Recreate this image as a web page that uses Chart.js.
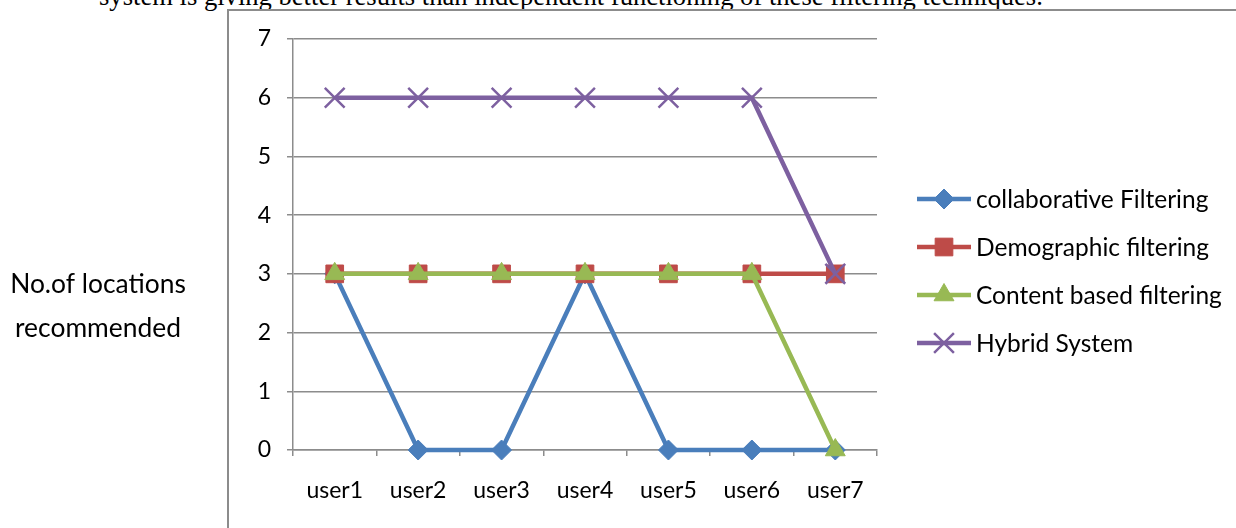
<!DOCTYPE html>
<html>
<head>
<meta charset="utf-8">
<script src="https://cdn.jsdelivr.net/npm/chart.js@4.4.0/dist/chart.umd.min.js"></script>
<style>
  html, body { margin: 0; padding: 0; background: #fff; overflow: hidden; }
  #wrap { position: relative; width: 1236px; height: 528px; overflow: hidden; }
  #caption {
    position: absolute; left: 99px; top: -17px; white-space: nowrap;
    font-family: "Liberation Serif", "DejaVu Serif", serif; font-size: 26.6px; line-height: 26.6px; color: #000;
  }
  #frame {
    position: absolute; left: 227px; top: 9px; width: 1100px; height: 600px;
    border-top: 2px solid #8c8c8c; border-left: 2px solid #8c8c8c;
  }
  #grafico { position: absolute; left: 0; top: 0; }
</style>
</head>
<body>
<div id="wrap">
  <div id="caption">system is giving better results than independent functioning of these filtering techniques.</div>
  <div id="frame"></div>
  <canvas id="grafico" width="1236" height="528"></canvas>
</div>
<script>
const usuarios = ['user1', 'user2', 'user3', 'user4', 'user5', 'user6', 'user7'];
const colaborativo = [3, 0, 0, 3, 0, 0, 0];
const demografico = [3, 3, 3, 3, 3, 3, 3];
const contenido = [3, 3, 3, 3, 3, 3, 0];
const hibrido = [6, 6, 6, 6, 6, 6, 3];
const nombres = ['collaborative Filtering', 'Demographic filtering', 'Content based filtering', 'Hybrid System'];
const tituloY = ['No.of locations', 'recommended'];

const colores = ['#4a7ebb', '#be4b48', '#98b954', '#7d60a0'];
const estilos = ['rectRot', 'rect', 'triangle', 'crossRot'];
const radios = [10, 12.5, 11.5, 14];
const gris = '#8c8c8c';
const fuente = 'Lato, "Open Sans", sans-serif';

function serie(i, datos) {
    return {
        label: nombres[i],
        data: datos,
        borderColor: colores[i],
        backgroundColor: colores[i],
        borderWidth: 4.5,
        tension: 0,
        clip: false,
        pointStyle: estilos[i],
        pointRadius: radios[i],
        pointHoverRadius: radios[i],
        pointBackgroundColor: colores[i],
        pointBorderColor: colores[i],
        pointBorderWidth: estilos[i] === 'crossRot' ? 2.5 : 1,
        order: 4 - i
    };
}

// leyenda y titulo del eje dibujados a mano
const extras = {
    id: 'extras',
    afterDraw(chart) {
        const ctx = chart.ctx;
        ctx.save();
        ctx.fillStyle = '#000';
        ctx.textBaseline = 'middle';
        ctx.textAlign = 'center';
        ctx.font = '26.4px ' + fuente;
        tituloY.forEach((t, k) => ctx.fillText(t, 98, 284 + k * 44));

        ctx.textAlign = 'left';
        ctx.font = '24.5px ' + fuente;
        chart.data.datasets.forEach((ds, i) => {
            const y = 199 + i * 48;
            ctx.strokeStyle = ds.borderColor;
            ctx.lineWidth = 4.5;
            ctx.beginPath();
            ctx.moveTo(917, y);
            ctx.lineTo(971, y);
            ctx.stroke();
            ctx.fillStyle = ds.pointBackgroundColor;
            ctx.strokeStyle = ds.pointBorderColor;
            ctx.lineWidth = ds.pointBorderWidth;
            Chart.helpers.drawPoint(ctx, { pointStyle: ds.pointStyle, radius: ds.pointRadius, rotation: 0, borderWidth: ds.pointBorderWidth }, 944, y);
            ctx.fillStyle = '#000';
            ctx.fillText(ds.label, 976, y + 1);
        });
        ctx.restore();
    }
};

const ctx = document.getElementById('grafico').getContext('2d');
const chart = new Chart(ctx, {
    type: 'line',
    data: {
        labels: usuarios,
        datasets: [
            serie(0, colaborativo),
            serie(1, demografico),
            serie(2, contenido),
            serie(3, hibrido)
        ]
    },
    options: {
        responsive: false,
        animation: false,
        layout: { padding: { left: 0, right: 359, top: 39, bottom: 0 } },
        plugins: { legend: { display: false }, tooltip: { enabled: false } },
        scales: {
            x: {
                offset: true,
                afterFit: s => { s.height = 78; },
                grid: { offset: true, drawOnChartArea: false, color: gris, lineWidth: 1.5, tickLength: 6 },
                border: { color: gris, width: 1.5 },
                ticks: { color: '#000', font: { family: fuente, size: 23 }, padding: 21, maxRotation: 0 }
            },
            y: {
                min: 0,
                max: 7,
                afterFit: s => { s.width = 293; },
                grid: { color: gris, lineWidth: 1.5, tickLength: 6 },
                border: { color: gris, width: 1.5 },
                ticks: { stepSize: 1, color: '#000', font: { family: fuente, size: 23 }, padding: 16 }
            }
        }
    },
    plugins: [extras]
});
</script>
</body>
</html>
